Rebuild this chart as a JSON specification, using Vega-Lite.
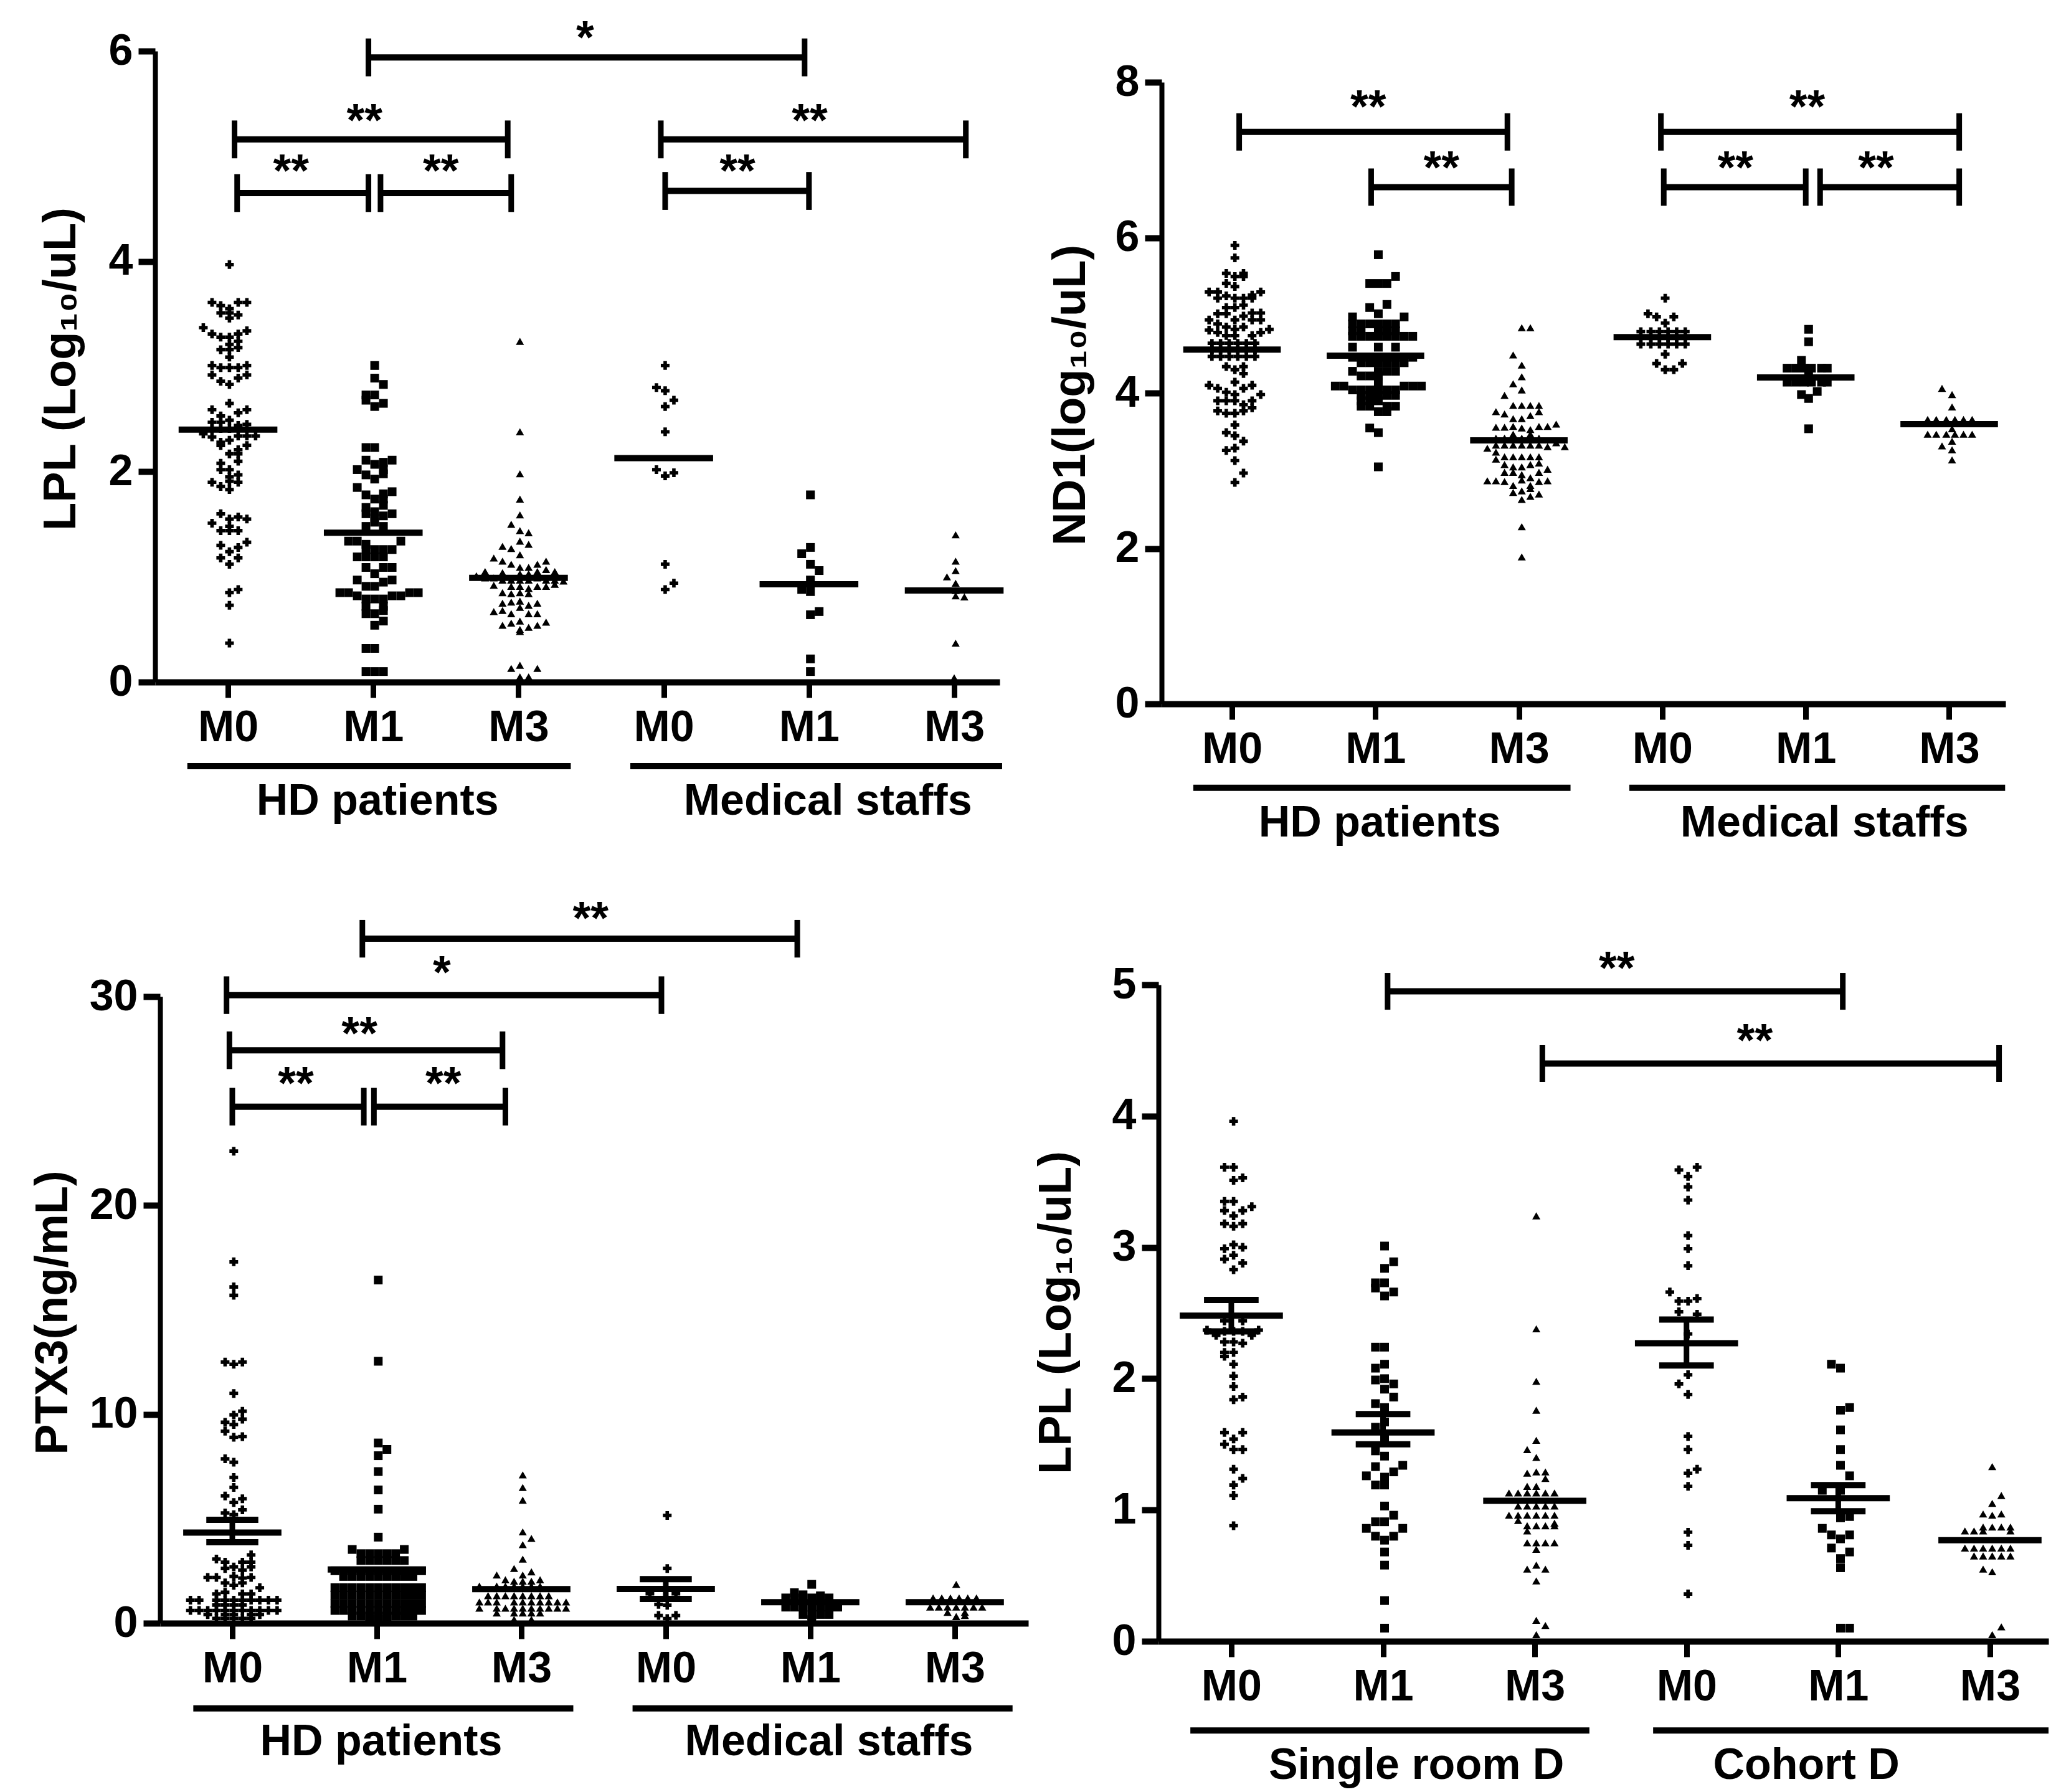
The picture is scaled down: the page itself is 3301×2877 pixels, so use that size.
{"$schema":"https://vega.github.io/schema/vega-lite/v6.json","background":"white","padding":{"left":48,"top":25,"right":0,"bottom":0},
"config":{"view":{"stroke":null},"axis":{"grid":false,"domainColor":"black","tickColor":"black","labelColor":"black","titleColor":"black","labelFont":"Liberation Sans","titleFont":"Liberation Sans","labelFontWeight":"bold","titleFontWeight":"bold","labelFontSize":70,"titleFontSize":74,"labelOverlap":false,"labelFlush":false,"labelBound":false},"axisX":{"domainWidth":10,"tickWidth":9,"tickSize":25,"labelPadding":14},"axisY":{"domainWidth":8,"tickWidth":10,"tickSize":27,"labelPadding":9}},
"datasets":{
"A0":[{"x":1.01,"y":3.97},{"x":0.89,"y":3.61},{"x":1.07,"y":3.61},{"x":1.13,"y":3.61},{"x":0.95,"y":3.58},{"x":1.01,"y":3.55},{"x":0.95,"y":3.51},{"x":1.01,"y":3.51},{"x":1.07,"y":3.49},{"x":1.01,"y":3.46},{"x":0.83,"y":3.37},{"x":0.89,"y":3.31},{"x":1.13,"y":3.34},{"x":1.07,"y":3.31},{"x":0.95,"y":3.28},{"x":1.01,"y":3.28},{"x":1.07,"y":3.24},{"x":1.01,"y":3.21},{"x":0.95,"y":3.16},{"x":1.01,"y":3.16},{"x":1.07,"y":3.18},{"x":1.01,"y":3.09},{"x":0.89,"y":3.01},{"x":0.95,"y":2.99},{"x":1.01,"y":2.99},{"x":1.07,"y":2.99},{"x":1.13,"y":3.01},{"x":0.89,"y":2.92},{"x":1.13,"y":2.92},{"x":1.07,"y":2.89},{"x":0.95,"y":2.86},{"x":1.01,"y":2.83},{"x":1.01,"y":2.65},{"x":0.89,"y":2.59},{"x":1.13,"y":2.59},{"x":1.07,"y":2.56},{"x":0.95,"y":2.53},{"x":0.89,"y":2.47},{"x":0.95,"y":2.47},{"x":1.01,"y":2.49},{"x":1.13,"y":2.45},{"x":1.07,"y":2.44},{"x":1.01,"y":2.41},{"x":0.89,"y":2.41},{"x":0.95,"y":2.41},{"x":0.83,"y":2.36},{"x":0.89,"y":2.33},{"x":0.95,"y":2.28},{"x":1.01,"y":2.3},{"x":1.07,"y":2.34},{"x":1.13,"y":2.34},{"x":1.19,"y":2.34},{"x":1.13,"y":2.25},{"x":0.95,"y":2.25},{"x":1.07,"y":2.21},{"x":1.01,"y":2.17},{"x":1.07,"y":2.17},{"x":1.07,"y":2.1},{"x":0.95,"y":2.08},{"x":0.95,"y":2.02},{"x":1.01,"y":2.02},{"x":1.01,"y":1.95},{"x":1.07,"y":1.97},{"x":1.07,"y":1.9},{"x":0.89,"y":1.9},{"x":0.95,"y":1.86},{"x":1.01,"y":1.83},{"x":1.01,"y":1.91},{"x":0.95,"y":1.6},{"x":1.07,"y":1.57},{"x":1.01,"y":1.55},{"x":1.13,"y":1.55},{"x":0.89,"y":1.51},{"x":1.01,"y":1.48},{"x":0.95,"y":1.44},{"x":1.01,"y":1.44},{"x":1.07,"y":1.44},{"x":1.13,"y":1.33},{"x":0.95,"y":1.3},{"x":1.07,"y":1.28},{"x":1.01,"y":1.24},{"x":0.95,"y":1.18},{"x":1.07,"y":1.18},{"x":1.01,"y":1.12},{"x":1.07,"y":0.88},{"x":1.01,"y":0.85},{"x":1.01,"y":0.73},{"x":1.01,"y":0.37},{"x":4.01,"y":3.01},{"x":3.95,"y":2.8},{"x":4.01,"y":2.77},{"x":4.07,"y":2.68},{"x":4.01,"y":2.62},{"x":4.01,"y":2.38},{"x":3.95,"y":2.02},{"x":4.07,"y":1.99},{"x":4.01,"y":1.96},{"x":4.01,"y":1.12},{"x":4.07,"y":0.94},{"x":4.01,"y":0.88}],
"A1":[{"x":2.01,"y":3.01},{"x":2.01,"y":2.89},{"x":2.07,"y":2.83},{"x":1.95,"y":2.73},{"x":2.01,"y":2.73},{"x":1.95,"y":2.68},{"x":2.07,"y":2.65},{"x":2.01,"y":2.62},{"x":1.95,"y":2.23},{"x":2.01,"y":2.23},{"x":1.95,"y":2.11},{"x":2.13,"y":2.11},{"x":2.07,"y":2.09},{"x":2.01,"y":2.07},{"x":1.89,"y":2.02},{"x":2.07,"y":2.02},{"x":1.95,"y":1.97},{"x":2.07,"y":1.98},{"x":2.01,"y":1.93},{"x":1.89,"y":1.85},{"x":2.13,"y":1.81},{"x":1.95,"y":1.78},{"x":2.07,"y":1.79},{"x":2.01,"y":1.74},{"x":2.07,"y":1.74},{"x":1.95,"y":1.66},{"x":2.07,"y":1.68},{"x":1.95,"y":1.6},{"x":2.01,"y":1.62},{"x":2.13,"y":1.6},{"x":2.07,"y":1.58},{"x":2.01,"y":1.56},{"x":1.95,"y":1.48},{"x":2.07,"y":1.48},{"x":2.01,"y":1.52},{"x":1.83,"y":1.34},{"x":1.89,"y":1.34},{"x":2.19,"y":1.34},{"x":1.95,"y":1.31},{"x":1.95,"y":1.26},{"x":2.01,"y":1.26},{"x":2.07,"y":1.26},{"x":2.13,"y":1.26},{"x":1.89,"y":1.19},{"x":1.95,"y":1.19},{"x":2.01,"y":1.19},{"x":2.07,"y":1.19},{"x":1.95,"y":1.09},{"x":2.07,"y":1.09},{"x":2.13,"y":1.09},{"x":2.01,"y":1.03},{"x":1.89,"y":0.97},{"x":2.13,"y":0.97},{"x":1.95,"y":0.91},{"x":2.01,"y":0.91},{"x":2.07,"y":0.95},{"x":1.77,"y":0.85},{"x":1.83,"y":0.85},{"x":1.89,"y":0.82},{"x":1.95,"y":0.79},{"x":2.01,"y":0.79},{"x":2.07,"y":0.79},{"x":2.13,"y":0.82},{"x":2.19,"y":0.82},{"x":2.25,"y":0.85},{"x":2.31,"y":0.85},{"x":1.95,"y":0.72},{"x":2.07,"y":0.72},{"x":1.95,"y":0.65},{"x":2.01,"y":0.65},{"x":2.07,"y":0.68},{"x":2.01,"y":0.54},{"x":2.07,"y":0.58},{"x":1.95,"y":0.32},{"x":2.01,"y":0.32},{"x":1.95,"y":0.1},{"x":2.01,"y":0.1},{"x":2.07,"y":0.1},{"x":5.01,"y":1.78},{"x":5.01,"y":1.28},{"x":4.95,"y":1.22},{"x":5.01,"y":1.12},{"x":5.07,"y":1.06},{"x":5.01,"y":0.97},{"x":4.95,"y":0.88},{"x":5.01,"y":0.86},{"x":5.07,"y":0.67},{"x":5.01,"y":0.64},{"x":5.01,"y":0.22},{"x":5.01,"y":0.1}],
"A2":[{"x":3.01,"y":3.24},{"x":3.01,"y":2.38},{"x":3.01,"y":1.98},{"x":3.01,"y":1.74},{"x":3.01,"y":1.59},{"x":2.95,"y":1.5},{"x":3.01,"y":1.44},{"x":3.07,"y":1.42},{"x":3.01,"y":1.34},{"x":3.07,"y":1.31},{"x":2.89,"y":1.29},{"x":2.95,"y":1.27},{"x":3.01,"y":1.21},{"x":2.83,"y":1.18},{"x":2.89,"y":1.15},{"x":2.95,"y":1.12},{"x":3.19,"y":1.15},{"x":3.13,"y":1.12},{"x":3.01,"y":1.09},{"x":3.07,"y":1.09},{"x":2.77,"y":1.05},{"x":2.89,"y":1.04},{"x":3.13,"y":1.05},{"x":3.19,"y":1.07},{"x":3.25,"y":1.05},{"x":3.01,"y":1.03},{"x":3.07,"y":1.03},{"x":2.71,"y":1.01},{"x":2.77,"y":0.99},{"x":2.83,"y":0.99},{"x":2.89,"y":0.97},{"x":2.95,"y":0.97},{"x":3.01,"y":0.97},{"x":3.07,"y":0.97},{"x":3.13,"y":0.99},{"x":3.19,"y":0.97},{"x":3.25,"y":0.97},{"x":3.31,"y":0.96},{"x":2.83,"y":0.92},{"x":2.95,"y":0.91},{"x":3.01,"y":0.91},{"x":3.07,"y":0.89},{"x":3.13,"y":0.91},{"x":3.19,"y":0.91},{"x":3.25,"y":0.93},{"x":2.89,"y":0.85},{"x":2.95,"y":0.84},{"x":3.01,"y":0.85},{"x":3.07,"y":0.84},{"x":2.89,"y":0.75},{"x":2.95,"y":0.76},{"x":3.01,"y":0.77},{"x":3.07,"y":0.73},{"x":3.13,"y":0.75},{"x":2.83,"y":0.67},{"x":2.89,"y":0.68},{"x":2.95,"y":0.65},{"x":3.01,"y":0.71},{"x":3.07,"y":0.65},{"x":3.13,"y":0.65},{"x":2.89,"y":0.54},{"x":2.95,"y":0.56},{"x":3.01,"y":0.58},{"x":3.01,"y":0.5},{"x":3.07,"y":0.52},{"x":3.13,"y":0.54},{"x":3.19,"y":0.57},{"x":3.01,"y":0.48},{"x":2.95,"y":0.13},{"x":3.01,"y":0.16},{"x":3.13,"y":0.13},{"x":3.01,"y":0.05},{"x":3.07,"y":0.05},{"x":6.01,"y":1.4},{"x":6.01,"y":1.15},{"x":6.01,"y":1.06},{"x":5.95,"y":1.0},{"x":6.01,"y":0.94},{"x":6.01,"y":0.87},{"x":6.01,"y":0.82},{"x":6.07,"y":0.81},{"x":6.01,"y":0.37},{"x":6.0,"y":0.04}],
"Ah":[{"x":0.66,"x2":1.34,"y":2.4},{"x":1.66,"x2":2.34,"y":1.42},{"x":2.66,"x2":3.34,"y":0.99},{"x":3.66,"x2":4.34,"y":2.13},{"x":4.66,"x2":5.34,"y":0.93},{"x":5.66,"x2":6.34,"y":0.87},{"x":0.72,"x2":3.36,"y":-0.8},{"x":3.77,"x2":6.33,"y":-0.8},{"x":1.967,"x2":4.97,"y":5.94},{"x":1.045,"x2":2.926,"y":5.16},{"x":1.063,"x2":1.967,"y":4.65},{"x":2.05,"x2":2.95,"y":4.65},{"x":3.98,"x2":6.08,"y":5.16},{"x":4.01,"x2":5.0,"y":4.67}],
"Av":[{"x":1.967,"y":5.76,"y2":6.12},{"x":4.97,"y":5.76,"y2":6.12},{"x":1.045,"y":4.98,"y2":5.34},{"x":2.926,"y":4.98,"y2":5.34},{"x":1.063,"y":4.47,"y2":4.83},{"x":1.967,"y":4.47,"y2":4.83},{"x":2.05,"y":4.47,"y2":4.83},{"x":2.95,"y":4.47,"y2":4.83},{"x":3.98,"y":4.98,"y2":5.34},{"x":6.08,"y":4.98,"y2":5.34},{"x":4.01,"y":4.49,"y2":4.85},{"x":5.0,"y":4.49,"y2":4.85}],
"As":[{"x":3.459,"y":6.16,"t":"*"},{"x":1.94,"y":5.37,"t":"**"},{"x":1.434,"y":4.89,"t":"**"},{"x":2.465,"y":4.89,"t":"**"},{"x":5.005,"y":5.37,"t":"**"},{"x":4.508,"y":4.89,"t":"**"}],
"At":[{"x":2.03,"y":-1.135,"t":"HD patients"},{"x":5.13,"y":-1.135,"t":"Medical staffs"}],
"B0":[{"x":1.02,"y":5.9},{"x":1.02,"y":5.74},{"x":1.08,"y":5.54},{"x":0.96,"y":5.54},{"x":1.02,"y":5.5},{"x":1.08,"y":5.5},{"x":0.96,"y":5.41},{"x":1.02,"y":5.37},{"x":0.84,"y":5.3},{"x":0.9,"y":5.3},{"x":1.2,"y":5.3},{"x":1.14,"y":5.26},{"x":0.9,"y":5.22},{"x":0.96,"y":5.25},{"x":1.02,"y":5.22},{"x":1.08,"y":5.22},{"x":1.14,"y":5.22},{"x":1.08,"y":5.13},{"x":0.96,"y":5.1},{"x":1.02,"y":5.1},{"x":0.9,"y":5.02},{"x":0.96,"y":5.02},{"x":1.14,"y":5.03},{"x":1.2,"y":5.03},{"x":0.84,"y":4.94},{"x":1.02,"y":4.94},{"x":1.08,"y":4.99},{"x":1.14,"y":4.94},{"x":1.2,"y":4.94},{"x":0.9,"y":4.89},{"x":0.96,"y":4.85},{"x":1.08,"y":4.85},{"x":0.84,"y":4.81},{"x":1.02,"y":4.82},{"x":0.9,"y":4.78},{"x":0.96,"y":4.74},{"x":1.02,"y":4.74},{"x":1.14,"y":4.74},{"x":1.2,"y":4.78},{"x":1.26,"y":4.82},{"x":0.86,"y":4.64},{"x":0.92,"y":4.64},{"x":0.98,"y":4.64},{"x":1.04,"y":4.64},{"x":1.1,"y":4.64},{"x":1.16,"y":4.64},{"x":0.86,"y":4.56},{"x":0.92,"y":4.56},{"x":0.98,"y":4.56},{"x":1.04,"y":4.56},{"x":1.1,"y":4.56},{"x":1.16,"y":4.56},{"x":0.86,"y":4.47},{"x":0.92,"y":4.47},{"x":0.98,"y":4.47},{"x":1.04,"y":4.47},{"x":1.1,"y":4.47},{"x":1.16,"y":4.47},{"x":0.96,"y":4.34},{"x":1.02,"y":4.3},{"x":1.08,"y":4.34},{"x":1.08,"y":4.25},{"x":1.02,"y":4.14},{"x":0.84,"y":4.1},{"x":1.14,"y":4.1},{"x":0.9,"y":4.06},{"x":1.08,"y":4.06},{"x":1.2,"y":3.98},{"x":0.96,"y":4.01},{"x":1.02,"y":3.98},{"x":0.9,"y":3.9},{"x":0.96,"y":3.9},{"x":1.02,"y":3.9},{"x":1.14,"y":3.9},{"x":1.08,"y":3.85},{"x":0.9,"y":3.77},{"x":1.14,"y":3.81},{"x":0.96,"y":3.74},{"x":1.02,"y":3.74},{"x":1.08,"y":3.77},{"x":1.02,"y":3.59},{"x":0.96,"y":3.49},{"x":1.02,"y":3.45},{"x":1.08,"y":3.38},{"x":1.02,"y":3.29},{"x":0.96,"y":3.26},{"x":1.02,"y":3.13},{"x":1.08,"y":2.97},{"x":1.02,"y":2.85},{"x":4.02,"y":5.22},{"x":3.9,"y":5.02},{"x":3.96,"y":4.98},{"x":4.08,"y":4.98},{"x":4.02,"y":4.9},{"x":3.85,"y":4.79},{"x":3.92,"y":4.79},{"x":3.98,"y":4.79},{"x":4.04,"y":4.79},{"x":4.1,"y":4.79},{"x":4.16,"y":4.79},{"x":3.85,"y":4.71},{"x":3.92,"y":4.71},{"x":3.98,"y":4.71},{"x":4.04,"y":4.71},{"x":4.1,"y":4.71},{"x":4.16,"y":4.71},{"x":3.85,"y":4.63},{"x":3.92,"y":4.63},{"x":3.98,"y":4.63},{"x":4.04,"y":4.63},{"x":4.1,"y":4.63},{"x":4.16,"y":4.63},{"x":4.02,"y":4.5},{"x":3.96,"y":4.38},{"x":4.14,"y":4.38},{"x":4.02,"y":4.3},{"x":4.08,"y":4.3}],
"B1":[{"x":2.02,"y":5.78},{"x":2.14,"y":5.5},{"x":1.96,"y":5.41},{"x":2.02,"y":5.41},{"x":2.08,"y":5.41},{"x":1.96,"y":5.1},{"x":2.08,"y":5.14},{"x":2.02,"y":5.02},{"x":1.84,"y":4.98},{"x":2.2,"y":4.98},{"x":1.84,"y":4.89},{"x":1.9,"y":4.89},{"x":1.96,"y":4.89},{"x":2.02,"y":4.89},{"x":2.08,"y":4.89},{"x":2.14,"y":4.89},{"x":1.84,"y":4.8},{"x":1.9,"y":4.8},{"x":2.02,"y":4.8},{"x":2.08,"y":4.8},{"x":2.14,"y":4.8},{"x":1.84,"y":4.73},{"x":1.9,"y":4.73},{"x":1.96,"y":4.73},{"x":2.02,"y":4.73},{"x":2.08,"y":4.73},{"x":2.14,"y":4.73},{"x":2.2,"y":4.73},{"x":2.26,"y":4.73},{"x":1.84,"y":4.59},{"x":2.02,"y":4.59},{"x":2.14,"y":4.59},{"x":1.84,"y":4.46},{"x":1.9,"y":4.46},{"x":1.96,"y":4.46},{"x":2.02,"y":4.46},{"x":2.08,"y":4.46},{"x":2.14,"y":4.46},{"x":2.2,"y":4.46},{"x":2.26,"y":4.46},{"x":1.9,"y":4.39},{"x":1.96,"y":4.39},{"x":2.02,"y":4.39},{"x":2.08,"y":4.39},{"x":2.14,"y":4.39},{"x":2.2,"y":4.39},{"x":1.84,"y":4.28},{"x":2.02,"y":4.28},{"x":2.08,"y":4.28},{"x":2.14,"y":4.28},{"x":1.9,"y":4.22},{"x":1.96,"y":4.22},{"x":2.02,"y":4.22},{"x":2.02,"y":4.14},{"x":1.72,"y":4.09},{"x":1.78,"y":4.09},{"x":2.2,"y":4.09},{"x":2.26,"y":4.09},{"x":2.32,"y":4.09},{"x":1.84,"y":4.04},{"x":1.9,"y":4.04},{"x":1.96,"y":4.04},{"x":2.02,"y":4.04},{"x":2.08,"y":4.04},{"x":2.14,"y":4.04},{"x":1.9,"y":3.97},{"x":1.96,"y":3.97},{"x":2.02,"y":3.97},{"x":2.08,"y":3.97},{"x":2.14,"y":3.97},{"x":1.9,"y":3.9},{"x":1.96,"y":3.9},{"x":2.02,"y":3.9},{"x":1.9,"y":3.83},{"x":1.96,"y":3.83},{"x":2.08,"y":3.83},{"x":2.14,"y":3.83},{"x":2.02,"y":3.76},{"x":2.08,"y":3.76},{"x":1.96,"y":3.55},{"x":2.02,"y":3.49},{"x":2.02,"y":3.05},{"x":5.02,"y":4.82},{"x":5.02,"y":4.66},{"x":4.97,"y":4.42},{"x":4.87,"y":4.32},{"x":4.93,"y":4.32},{"x":4.99,"y":4.32},{"x":5.04,"y":4.32},{"x":5.11,"y":4.32},{"x":5.15,"y":4.32},{"x":5.02,"y":4.26},{"x":4.87,"y":4.14},{"x":4.93,"y":4.14},{"x":4.99,"y":4.14},{"x":5.04,"y":4.14},{"x":5.11,"y":4.14},{"x":5.15,"y":4.14},{"x":4.97,"y":3.98},{"x":5.08,"y":4.02},{"x":5.02,"y":3.93},{"x":5.02,"y":3.54}],
"B2":[{"x":3.02,"y":4.84},{"x":3.08,"y":4.84},{"x":2.96,"y":4.49},{"x":3.02,"y":4.36},{"x":3.02,"y":4.21},{"x":2.96,"y":4.12},{"x":3.02,"y":4.04},{"x":2.9,"y":3.97},{"x":2.96,"y":3.84},{"x":3.02,"y":3.84},{"x":3.08,"y":3.84},{"x":3.14,"y":3.84},{"x":2.84,"y":3.76},{"x":2.9,"y":3.73},{"x":2.96,"y":3.67},{"x":3.02,"y":3.67},{"x":3.08,"y":3.71},{"x":3.14,"y":3.76},{"x":2.84,"y":3.56},{"x":2.9,"y":3.56},{"x":2.96,"y":3.57},{"x":3.02,"y":3.55},{"x":3.08,"y":3.53},{"x":3.14,"y":3.57},{"x":3.2,"y":3.57},{"x":3.26,"y":3.6},{"x":2.96,"y":3.47},{"x":3.08,"y":3.47},{"x":2.84,"y":3.42},{"x":2.9,"y":3.42},{"x":2.96,"y":3.42},{"x":3.02,"y":3.42},{"x":3.08,"y":3.42},{"x":3.14,"y":3.42},{"x":2.84,"y":3.33},{"x":2.9,"y":3.33},{"x":2.96,"y":3.33},{"x":3.02,"y":3.33},{"x":3.08,"y":3.33},{"x":3.14,"y":3.33},{"x":2.78,"y":3.29},{"x":3.32,"y":3.31},{"x":3.26,"y":3.36},{"x":3.2,"y":3.31},{"x":2.84,"y":3.24},{"x":2.9,"y":3.18},{"x":2.96,"y":3.18},{"x":3.02,"y":3.18},{"x":3.08,"y":3.18},{"x":3.14,"y":3.18},{"x":2.84,"y":3.15},{"x":2.9,"y":3.08},{"x":2.96,"y":3.05},{"x":3.02,"y":3.05},{"x":3.14,"y":3.1},{"x":3.08,"y":3.08},{"x":3.2,"y":3.02},{"x":2.9,"y":2.98},{"x":2.96,"y":2.98},{"x":3.02,"y":2.95},{"x":3.08,"y":2.91},{"x":3.14,"y":2.98},{"x":2.78,"y":2.87},{"x":2.84,"y":2.87},{"x":2.9,"y":2.86},{"x":2.96,"y":2.81},{"x":3.02,"y":2.88},{"x":3.08,"y":2.81},{"x":3.14,"y":2.86},{"x":3.2,"y":2.87},{"x":2.96,"y":2.72},{"x":3.02,"y":2.74},{"x":3.08,"y":2.77},{"x":3.14,"y":2.7},{"x":3.02,"y":2.63},{"x":3.08,"y":2.67},{"x":3.02,"y":2.28},{"x":3.02,"y":1.89},{"x":5.95,"y":4.06},{"x":6.02,"y":3.98},{"x":6.02,"y":3.82},{"x":5.85,"y":3.66},{"x":5.91,"y":3.66},{"x":5.98,"y":3.66},{"x":6.04,"y":3.66},{"x":6.1,"y":3.66},{"x":6.16,"y":3.66},{"x":6.02,"y":3.54},{"x":5.85,"y":3.47},{"x":5.91,"y":3.47},{"x":5.98,"y":3.47},{"x":6.04,"y":3.47},{"x":6.1,"y":3.47},{"x":6.16,"y":3.47},{"x":6.02,"y":3.38},{"x":5.95,"y":3.32},{"x":6.02,"y":3.27},{"x":6.02,"y":3.14}],
"Bh":[{"x":0.66,"x2":1.34,"y":4.56},{"x":1.66,"x2":2.34,"y":4.48},{"x":2.66,"x2":3.34,"y":3.39},{"x":3.66,"x2":4.34,"y":4.72},{"x":4.66,"x2":5.34,"y":4.2},{"x":5.66,"x2":6.34,"y":3.6},{"x":0.73,"x2":3.36,"y":-1.08},{"x":3.77,"x2":6.39,"y":-1.08},{"x":1.05,"x2":2.92,"y":7.36},{"x":1.97,"x2":2.95,"y":6.65},{"x":3.99,"x2":6.07,"y":7.36},{"x":4.01,"x2":5.0,"y":6.65},{"x":5.1,"x2":6.07,"y":6.65}],
"Bv":[{"x":1.05,"y":7.12,"y2":7.6},{"x":2.92,"y":7.12,"y2":7.6},{"x":1.97,"y":6.41,"y2":6.89},{"x":2.95,"y":6.41,"y2":6.89},{"x":3.99,"y":7.12,"y2":7.6},{"x":6.07,"y":7.12,"y2":7.6},{"x":4.01,"y":6.41,"y2":6.89},{"x":5.0,"y":6.41,"y2":6.89},{"x":5.1,"y":6.41,"y2":6.89},{"x":6.07,"y":6.41,"y2":6.89}],
"Bs":[{"x":1.95,"y":7.73,"t":"**"},{"x":2.46,"y":6.94,"t":"**"},{"x":5.01,"y":7.73,"t":"**"},{"x":4.51,"y":6.94,"t":"**"},{"x":5.49,"y":6.94,"t":"**"}],
"Bt":[{"x":2.03,"y":-1.54,"t":"HD patients"},{"x":5.13,"y":-1.54,"t":"Medical staffs"}],
"C0":[{"x":1.01,"y":22.6},{"x":1.01,"y":17.3},{"x":1.01,"y":16.1},{"x":1.01,"y":15.7},{"x":0.95,"y":12.5},{"x":1.07,"y":12.5},{"x":1.01,"y":12.4},{"x":1.01,"y":11.0},{"x":1.07,"y":10.15},{"x":1.01,"y":9.97},{"x":1.07,"y":9.77},{"x":0.95,"y":9.62},{"x":1.01,"y":9.51},{"x":0.95,"y":9.19},{"x":1.01,"y":8.9},{"x":1.07,"y":8.93},{"x":0.95,"y":7.87},{"x":1.01,"y":7.71},{"x":1.01,"y":6.98},{"x":1.01,"y":6.5},{"x":0.95,"y":6.09},{"x":1.01,"y":5.78},{"x":1.07,"y":5.96},{"x":1.07,"y":5.43},{"x":0.95,"y":5.28},{"x":1.01,"y":5.2},{"x":1.13,"y":3.27},{"x":0.89,"y":3.07},{"x":0.95,"y":2.92},{"x":1.13,"y":2.92},{"x":1.07,"y":2.92},{"x":1.01,"y":2.69},{"x":0.95,"y":2.62},{"x":1.07,"y":2.54},{"x":1.13,"y":2.69},{"x":0.83,"y":2.19},{"x":0.89,"y":2.19},{"x":1.01,"y":2.24},{"x":1.07,"y":2.16},{"x":1.13,"y":2.19},{"x":0.95,"y":1.93},{"x":1.01,"y":1.81},{"x":1.07,"y":1.93},{"x":1.19,"y":1.7},{"x":0.89,"y":1.4},{"x":0.95,"y":1.48},{"x":1.07,"y":1.4},{"x":1.13,"y":1.4},{"x":0.71,"y":1.1},{"x":0.77,"y":1.1},{"x":0.89,"y":1.1},{"x":0.95,"y":1.1},{"x":1.01,"y":1.1},{"x":1.07,"y":1.1},{"x":1.13,"y":1.1},{"x":1.19,"y":1.1},{"x":1.25,"y":1.1},{"x":1.31,"y":1.1},{"x":0.89,"y":0.87},{"x":0.95,"y":0.87},{"x":1.01,"y":0.87},{"x":1.07,"y":0.87},{"x":0.71,"y":0.61},{"x":0.77,"y":0.61},{"x":0.83,"y":0.61},{"x":0.89,"y":0.61},{"x":0.95,"y":0.61},{"x":1.01,"y":0.61},{"x":1.07,"y":0.61},{"x":1.13,"y":0.61},{"x":1.19,"y":0.61},{"x":1.25,"y":0.61},{"x":1.31,"y":0.61},{"x":0.83,"y":0.41},{"x":0.95,"y":0.41},{"x":1.01,"y":0.41},{"x":1.13,"y":0.41},{"x":1.19,"y":0.41},{"x":0.89,"y":0.23},{"x":0.95,"y":0.23},{"x":1.01,"y":0.23},{"x":1.07,"y":0.23},{"x":1.13,"y":0.23},{"x":4.01,"y":5.16},{"x":4.01,"y":2.62},{"x":3.89,"y":1.41},{"x":4.07,"y":1.41},{"x":3.95,"y":0.9},{"x":4.01,"y":0.86},{"x":3.95,"y":0.37},{"x":4.07,"y":0.37},{"x":4.01,"y":0.22}],
"C1":[{"x":2.01,"y":16.43},{"x":2.01,"y":12.54},{"x":2.01,"y":8.63},{"x":2.07,"y":8.32},{"x":2.01,"y":8.02},{"x":2.01,"y":7.26},{"x":2.01,"y":6.38},{"x":2.01,"y":5.46},{"x":2.01,"y":4.12},{"x":1.83,"y":3.53},{"x":2.19,"y":3.53},{"x":1.89,"y":3.33},{"x":1.95,"y":3.33},{"x":2.01,"y":3.33},{"x":2.07,"y":3.33},{"x":2.13,"y":3.33},{"x":1.89,"y":3.0},{"x":1.95,"y":3.0},{"x":2.01,"y":3.0},{"x":2.07,"y":3.0},{"x":2.13,"y":3.0},{"x":2.19,"y":3.0},{"x":1.71,"y":2.51},{"x":1.77,"y":2.51},{"x":1.83,"y":2.51},{"x":1.89,"y":2.51},{"x":1.95,"y":2.51},{"x":2.01,"y":2.51},{"x":2.07,"y":2.51},{"x":2.13,"y":2.51},{"x":2.19,"y":2.51},{"x":2.25,"y":2.51},{"x":2.31,"y":2.51},{"x":1.77,"y":2.24},{"x":1.83,"y":2.24},{"x":1.89,"y":2.24},{"x":1.95,"y":2.24},{"x":2.01,"y":2.24},{"x":2.07,"y":2.24},{"x":2.13,"y":2.24},{"x":2.19,"y":2.24},{"x":2.25,"y":2.24},{"x":1.71,"y":1.7},{"x":1.77,"y":1.7},{"x":1.83,"y":1.7},{"x":1.89,"y":1.7},{"x":1.95,"y":1.7},{"x":2.01,"y":1.7},{"x":2.07,"y":1.7},{"x":2.13,"y":1.7},{"x":2.19,"y":1.7},{"x":2.25,"y":1.7},{"x":2.31,"y":1.7},{"x":1.71,"y":1.35},{"x":1.77,"y":1.35},{"x":1.83,"y":1.35},{"x":1.89,"y":1.35},{"x":1.95,"y":1.35},{"x":2.01,"y":1.35},{"x":2.07,"y":1.35},{"x":2.13,"y":1.35},{"x":2.19,"y":1.35},{"x":2.25,"y":1.35},{"x":2.31,"y":1.35},{"x":1.71,"y":0.95},{"x":1.77,"y":0.95},{"x":1.83,"y":0.95},{"x":1.89,"y":0.95},{"x":1.95,"y":0.95},{"x":2.01,"y":0.95},{"x":2.07,"y":0.95},{"x":2.13,"y":0.95},{"x":2.19,"y":0.95},{"x":2.25,"y":0.95},{"x":2.31,"y":0.95},{"x":1.71,"y":0.61},{"x":1.77,"y":0.61},{"x":1.83,"y":0.61},{"x":1.89,"y":0.61},{"x":1.95,"y":0.61},{"x":2.01,"y":0.61},{"x":2.07,"y":0.61},{"x":2.13,"y":0.61},{"x":2.19,"y":0.61},{"x":2.25,"y":0.61},{"x":2.31,"y":0.61},{"x":1.83,"y":0.34},{"x":1.89,"y":0.34},{"x":1.95,"y":0.34},{"x":2.01,"y":0.34},{"x":2.07,"y":0.34},{"x":2.13,"y":0.34},{"x":2.19,"y":0.34},{"x":2.25,"y":0.34},{"x":1.95,"y":0.18},{"x":2.01,"y":0.18},{"x":2.07,"y":0.18},{"x":5.01,"y":1.86},{"x":4.89,"y":1.46},{"x":4.95,"y":1.36},{"x":5.07,"y":1.31},{"x":4.83,"y":1.21},{"x":4.89,"y":1.21},{"x":4.95,"y":1.21},{"x":5.01,"y":1.21},{"x":5.07,"y":1.21},{"x":5.13,"y":1.21},{"x":4.83,"y":0.77},{"x":4.89,"y":0.77},{"x":4.95,"y":0.77},{"x":5.01,"y":0.77},{"x":5.07,"y":0.77},{"x":5.13,"y":0.77},{"x":5.19,"y":0.77},{"x":4.95,"y":0.42},{"x":5.01,"y":0.37},{"x":5.07,"y":0.42},{"x":5.13,"y":0.42},{"x":5.01,"y":0.17}],
"C2":[{"x":3.01,"y":7.1},{"x":3.01,"y":6.5},{"x":3.01,"y":5.89},{"x":3.01,"y":4.37},{"x":3.07,"y":4.06},{"x":3.01,"y":3.76},{"x":3.01,"y":3.07},{"x":2.95,"y":2.62},{"x":3.07,"y":2.46},{"x":2.83,"y":2.31},{"x":3.01,"y":2.31},{"x":2.89,"y":2.08},{"x":3.13,"y":2.08},{"x":3.01,"y":2.01},{"x":3.07,"y":2.01},{"x":2.95,"y":2.01},{"x":2.71,"y":1.78},{"x":2.83,"y":1.78},{"x":2.89,"y":1.78},{"x":2.95,"y":1.78},{"x":3.01,"y":1.78},{"x":3.07,"y":1.78},{"x":3.13,"y":1.78},{"x":2.77,"y":1.32},{"x":2.83,"y":1.32},{"x":2.89,"y":1.32},{"x":2.95,"y":1.32},{"x":3.01,"y":1.32},{"x":3.07,"y":1.32},{"x":3.13,"y":1.32},{"x":3.19,"y":1.32},{"x":2.71,"y":1.02},{"x":2.77,"y":1.02},{"x":2.83,"y":1.02},{"x":2.95,"y":1.02},{"x":3.01,"y":1.02},{"x":3.07,"y":1.02},{"x":3.13,"y":1.02},{"x":3.19,"y":1.02},{"x":3.25,"y":1.02},{"x":3.31,"y":1.02},{"x":2.71,"y":0.72},{"x":2.83,"y":0.72},{"x":2.89,"y":0.72},{"x":2.95,"y":0.72},{"x":3.01,"y":0.72},{"x":3.07,"y":0.72},{"x":3.13,"y":0.72},{"x":3.19,"y":0.72},{"x":3.25,"y":0.72},{"x":3.31,"y":0.72},{"x":2.83,"y":0.49},{"x":2.95,"y":0.49},{"x":3.01,"y":0.49},{"x":3.07,"y":0.49},{"x":3.13,"y":0.49},{"x":2.95,"y":0.18},{"x":3.07,"y":0.18},{"x":6.01,"y":1.86},{"x":5.85,"y":1.21},{"x":5.91,"y":1.21},{"x":5.97,"y":1.21},{"x":6.03,"y":1.21},{"x":6.09,"y":1.21},{"x":6.15,"y":1.21},{"x":5.83,"y":0.77},{"x":5.89,"y":0.77},{"x":5.95,"y":0.77},{"x":6.01,"y":0.77},{"x":6.07,"y":0.77},{"x":6.13,"y":0.77},{"x":6.19,"y":0.77},{"x":5.95,"y":0.52},{"x":6.07,"y":0.52},{"x":6.01,"y":0.32},{"x":6.07,"y":0.37}],
"Ch":[{"x":0.66,"x2":1.34,"y":4.34},{"x":1.66,"x2":2.34,"y":2.57},{"x":2.66,"x2":3.34,"y":1.63},{"x":3.66,"x2":4.34,"y":1.64},{"x":4.66,"x2":5.34,"y":1.01},{"x":5.66,"x2":6.34,"y":1.01},{"x":0.82,"x2":1.18,"y":4.95},{"x":0.82,"x2":1.18,"y":3.88},{"x":3.82,"x2":4.18,"y":2.11},{"x":3.82,"x2":4.18,"y":1.16},{"x":0.73,"x2":3.36,"y":-4.08},{"x":3.77,"x2":6.4,"y":-4.08},{"x":1.9,"x2":4.91,"y":32.77},{"x":0.96,"x2":3.97,"y":30.07},{"x":0.98,"x2":2.87,"y":27.43},{"x":1.0,"x2":1.91,"y":24.73},{"x":1.98,"x2":2.89,"y":24.73}],
"Cv":[{"x":1.9,"y":31.87,"y2":33.67},{"x":4.91,"y":31.87,"y2":33.67},{"x":0.96,"y":29.17,"y2":30.97},{"x":3.97,"y":29.17,"y2":30.97},{"x":0.98,"y":26.53,"y2":28.33},{"x":2.87,"y":26.53,"y2":28.33},{"x":1.0,"y":23.83,"y2":25.63},{"x":1.91,"y":23.83,"y2":25.63},{"x":1.98,"y":23.83,"y2":25.63},{"x":2.89,"y":23.83,"y2":25.63},{"x":1.0,"y":3.88,"y2":4.95},{"x":4.0,"y":1.16,"y2":2.11}],
"Cs":[{"x":3.48,"y":33.9,"t":"**"},{"x":2.45,"y":31.3,"t":"*"},{"x":1.88,"y":28.4,"t":"**"},{"x":1.44,"y":26.0,"t":"**"},{"x":2.46,"y":26.0,"t":"**"}],
"Ct":[{"x":2.03,"y":-5.71,"t":"HD patients"},{"x":5.13,"y":-5.71,"t":"Medical staffs"}],
"D0":[{"x":1.015,"y":3.96},{"x":0.955,"y":3.61},{"x":1.015,"y":3.61},{"x":1.075,"y":3.53},{"x":1.015,"y":3.51},{"x":0.955,"y":3.35},{"x":1.015,"y":3.35},{"x":0.955,"y":3.28},{"x":1.075,"y":3.28},{"x":1.135,"y":3.31},{"x":1.015,"y":3.24},{"x":0.955,"y":3.18},{"x":1.075,"y":3.18},{"x":1.015,"y":3.16},{"x":0.955,"y":2.99},{"x":1.015,"y":3.02},{"x":1.075,"y":3.0},{"x":0.955,"y":2.91},{"x":1.015,"y":2.94},{"x":1.075,"y":2.88},{"x":1.015,"y":2.83},{"x":0.955,"y":2.44},{"x":1.075,"y":2.44},{"x":0.84,"y":2.37},{"x":0.9,"y":2.33},{"x":0.955,"y":2.36},{"x":1.015,"y":2.36},{"x":1.075,"y":2.36},{"x":1.135,"y":2.33},{"x":1.18,"y":2.37},{"x":0.955,"y":2.28},{"x":1.015,"y":2.28},{"x":1.075,"y":2.27},{"x":0.955,"y":2.2},{"x":1.015,"y":2.2},{"x":0.955,"y":2.17},{"x":1.015,"y":2.11},{"x":1.015,"y":2.02},{"x":1.015,"y":1.94},{"x":1.015,"y":1.84},{"x":1.075,"y":1.86},{"x":0.955,"y":1.59},{"x":1.075,"y":1.59},{"x":1.015,"y":1.54},{"x":0.955,"y":1.5},{"x":1.015,"y":1.46},{"x":1.075,"y":1.46},{"x":1.015,"y":1.31},{"x":1.075,"y":1.24},{"x":1.015,"y":1.19},{"x":1.015,"y":1.11},{"x":1.015,"y":0.88},{"x":4.07,"y":3.61},{"x":3.95,"y":3.59},{"x":4.01,"y":3.54},{"x":4.01,"y":3.46},{"x":4.01,"y":3.36},{"x":4.01,"y":3.09},{"x":4.01,"y":2.99},{"x":4.01,"y":2.86},{"x":3.89,"y":2.66},{"x":4.07,"y":2.61},{"x":3.95,"y":2.59},{"x":4.01,"y":2.59},{"x":3.95,"y":2.51},{"x":4.07,"y":2.49},{"x":4.01,"y":2.34},{"x":4.01,"y":2.03},{"x":3.95,"y":1.96},{"x":4.01,"y":1.88},{"x":4.01,"y":1.56},{"x":4.01,"y":1.46},{"x":4.01,"y":1.28},{"x":4.07,"y":1.31},{"x":4.01,"y":1.18},{"x":4.01,"y":0.83},{"x":4.01,"y":0.73},{"x":4.01,"y":0.36}],
"D1":[{"x":2.01,"y":3.01},{"x":2.07,"y":2.89},{"x":2.01,"y":2.84},{"x":1.95,"y":2.73},{"x":2.01,"y":2.73},{"x":1.95,"y":2.69},{"x":2.07,"y":2.66},{"x":2.01,"y":2.63},{"x":1.95,"y":2.24},{"x":2.01,"y":2.24},{"x":2.01,"y":2.11},{"x":1.95,"y":2.08},{"x":2.01,"y":2.0},{"x":1.95,"y":1.99},{"x":2.07,"y":1.96},{"x":2.01,"y":1.92},{"x":2.07,"y":1.86},{"x":1.95,"y":1.81},{"x":2.01,"y":1.78},{"x":2.01,"y":1.67},{"x":1.95,"y":1.63},{"x":2.01,"y":1.55},{"x":2.01,"y":1.41},{"x":1.95,"y":1.45},{"x":1.95,"y":1.33},{"x":2.13,"y":1.34},{"x":1.89,"y":1.26},{"x":2.07,"y":1.29},{"x":2.01,"y":1.25},{"x":1.95,"y":1.19},{"x":2.01,"y":1.19},{"x":2.01,"y":1.03},{"x":2.07,"y":0.96},{"x":2.01,"y":0.91},{"x":1.95,"y":0.91},{"x":1.89,"y":0.86},{"x":2.13,"y":0.86},{"x":1.95,"y":0.8},{"x":2.07,"y":0.8},{"x":2.01,"y":0.77},{"x":2.01,"y":0.68},{"x":2.01,"y":0.58},{"x":2.01,"y":0.31},{"x":2.01,"y":0.1},{"x":4.955,"y":2.11},{"x":5.015,"y":2.08},{"x":5.075,"y":1.78},{"x":5.015,"y":1.76},{"x":5.015,"y":1.61},{"x":5.015,"y":1.46},{"x":5.015,"y":1.34},{"x":5.075,"y":1.26},{"x":4.895,"y":1.15},{"x":5.015,"y":1.15},{"x":5.015,"y":0.94},{"x":5.075,"y":0.95},{"x":4.895,"y":0.86},{"x":4.955,"y":0.81},{"x":5.075,"y":0.81},{"x":5.015,"y":0.78},{"x":4.955,"y":0.71},{"x":5.075,"y":0.68},{"x":5.015,"y":0.63},{"x":5.015,"y":0.56},{"x":5.015,"y":0.1},{"x":5.075,"y":0.1}],
"D2":[{"x":3.01,"y":3.24},{"x":3.01,"y":2.38},{"x":3.01,"y":1.98},{"x":3.01,"y":1.76},{"x":3.01,"y":1.53},{"x":2.95,"y":1.46},{"x":3.01,"y":1.4},{"x":2.95,"y":1.28},{"x":3.01,"y":1.29},{"x":3.07,"y":1.29},{"x":3.07,"y":1.24},{"x":2.95,"y":1.18},{"x":3.01,"y":1.18},{"x":2.83,"y":1.13},{"x":2.89,"y":1.13},{"x":2.95,"y":1.13},{"x":3.01,"y":1.13},{"x":3.07,"y":1.13},{"x":3.13,"y":1.13},{"x":2.89,"y":1.03},{"x":2.95,"y":1.03},{"x":3.01,"y":1.03},{"x":3.07,"y":1.03},{"x":3.13,"y":1.03},{"x":2.83,"y":0.96},{"x":2.89,"y":0.96},{"x":2.95,"y":0.96},{"x":3.01,"y":0.96},{"x":3.07,"y":0.96},{"x":3.13,"y":0.96},{"x":2.89,"y":0.92},{"x":3.13,"y":0.9},{"x":2.95,"y":0.88},{"x":3.01,"y":0.88},{"x":3.07,"y":0.88},{"x":3.13,"y":0.88},{"x":2.95,"y":0.84},{"x":2.95,"y":0.75},{"x":3.01,"y":0.75},{"x":3.07,"y":0.75},{"x":3.13,"y":0.75},{"x":3.01,"y":0.7},{"x":2.95,"y":0.55},{"x":3.01,"y":0.58},{"x":3.07,"y":0.55},{"x":3.01,"y":0.46},{"x":3.01,"y":0.16},{"x":3.07,"y":0.12},{"x":3.01,"y":0.05},{"x":6.015,"y":1.33},{"x":6.075,"y":1.11},{"x":6.015,"y":1.05},{"x":5.955,"y":0.97},{"x":6.075,"y":0.97},{"x":6.015,"y":0.96},{"x":5.955,"y":0.87},{"x":6.015,"y":0.87},{"x":6.075,"y":0.87},{"x":6.135,"y":0.87},{"x":5.835,"y":0.84},{"x":5.895,"y":0.84},{"x":5.955,"y":0.84},{"x":6.135,"y":0.84},{"x":5.835,"y":0.71},{"x":5.895,"y":0.71},{"x":5.955,"y":0.71},{"x":6.015,"y":0.71},{"x":6.075,"y":0.71},{"x":6.135,"y":0.71},{"x":5.895,"y":0.65},{"x":5.955,"y":0.65},{"x":6.015,"y":0.65},{"x":6.075,"y":0.65},{"x":6.135,"y":0.65},{"x":5.955,"y":0.55},{"x":6.015,"y":0.53},{"x":6.075,"y":0.11},{"x":6.015,"y":0.05}],
"Dh":[{"x":0.66,"x2":1.34,"y":2.48},{"x":1.66,"x2":2.34,"y":1.59},{"x":2.66,"x2":3.34,"y":1.07},{"x":3.66,"x2":4.34,"y":2.27},{"x":4.66,"x2":5.34,"y":1.09},{"x":5.66,"x2":6.34,"y":0.77},{"x":0.82,"x2":1.18,"y":2.6},{"x":0.82,"x2":1.18,"y":2.36},{"x":1.82,"x2":2.18,"y":1.73},{"x":1.82,"x2":2.18,"y":1.5},{"x":3.82,"x2":4.18,"y":2.45},{"x":3.82,"x2":4.18,"y":2.1},{"x":4.82,"x2":5.18,"y":1.19},{"x":4.82,"x2":5.18,"y":0.99},{"x":0.73,"x2":3.36,"y":-0.68},{"x":3.78,"x2":6.386,"y":-0.68},{"x":2.03,"x2":5.03,"y":4.95},{"x":3.05,"x2":6.06,"y":4.4}],
"Dv":[{"x":2.03,"y":4.81,"y2":5.09},{"x":5.03,"y":4.81,"y2":5.09},{"x":3.05,"y":4.26,"y2":4.54},{"x":6.06,"y":4.26,"y2":4.54},{"x":1.0,"y":2.36,"y2":2.6},{"x":2.0,"y":1.5,"y2":1.73},{"x":4.0,"y":2.1,"y2":2.45},{"x":5.0,"y":0.99,"y2":1.19}],
"Ds":[{"x":3.54,"y":5.15,"t":"**"},{"x":4.45,"y":4.6,"t":"**"}],
"Dt":[{"x":2.22,"y":-0.95,"t":"Single room D"},{"x":4.79,"y":-0.95,"t":"Cohort D"}]
},
"spacing":1499,"bounds":"flush",
"vconcat":[
{"spacing":260,"bounds":"flush","hconcat":[
{"width":1356,"height":1013,
"encoding":{"x":{"field":"x","type":"quantitative","scale":{"domain":[0.498,6.313],"range":[0,1356],"nice":false,"zero":false},"axis":{"values":[1,2,3,4,5,6],"title":null,"labelExpr":"['M0','M1','M3'][(datum.value-1)%3]"}},"y":{"field":"y","type":"quantitative","scale":{"domain":[0,6],"range":[1013,0],"nice":false},"axis":{"values":[0,2,4,6],"title":"LPL (Log₁₀/uL)","titleX":-151,"titleY":510,"titleAlign":"center","titleBaseline":"middle","titleAngle":-90}}},
"layer":[
{"data":{"name":"A0"},"mark":{"type":"point","shape":"cross","filled":true,"size":196,"color":"black","opacity":1},"encoding":{}},
{"data":{"name":"A1"},"mark":{"type":"point","shape":"square","filled":true,"size":196,"color":"black","opacity":1},"encoding":{}},
{"data":{"name":"A2"},"mark":{"type":"point","shape":"triangle-up","filled":true,"size":170,"color":"black","opacity":1},"encoding":{}},
{"data":{"name":"Ah"},"mark":{"type":"rule","strokeWidth":10,"color":"black"},"encoding":{"x2":{"field":"x2"}}},
{"data":{"name":"Av"},"mark":{"type":"rule","strokeWidth":9,"color":"black"},"encoding":{"y2":{"field":"y2"}}},
{"data":{"name":"As"},"mark":{"type":"text","font":"Liberation Sans","fontWeight":"bold","fontSize":74,"baseline":"middle","dy":8,"color":"black"},"encoding":{"text":{"field":"t"}}},
{"data":{"name":"At"},"mark":{"type":"text","font":"Liberation Sans","fontWeight":"bold","fontSize":70,"baseline":"middle","color":"black"},"encoding":{"text":{"field":"t"}}}
]},
{"width":1355,"height":1048,
"encoding":{"x":{"field":"x","type":"quantitative","scale":{"domain":[0.509,6.393],"range":[0,1355],"nice":false,"zero":false},"axis":{"values":[1,2,3,4,5,6],"title":null,"labelExpr":"['M0','M1','M3'][(datum.value-1)%3]"}},"y":{"field":"y","type":"quantitative","scale":{"domain":[0,8],"range":[1048,50],"nice":false},"axis":{"values":[0,2,4,6,8],"title":"ND1(log₁₀/uL)","titleX":-146,"titleY":552,"titleAlign":"center","titleBaseline":"middle","titleAngle":-90}}},
"layer":[
{"data":{"name":"B0"},"mark":{"type":"point","shape":"cross","filled":true,"size":196,"color":"black","opacity":1},"encoding":{}},
{"data":{"name":"B1"},"mark":{"type":"point","shape":"square","filled":true,"size":196,"color":"black","opacity":1},"encoding":{}},
{"data":{"name":"B2"},"mark":{"type":"point","shape":"triangle-up","filled":true,"size":170,"color":"black","opacity":1},"encoding":{}},
{"data":{"name":"Bh"},"mark":{"type":"rule","strokeWidth":10,"color":"black"},"encoding":{"x2":{"field":"x2"}}},
{"data":{"name":"Bv"},"mark":{"type":"rule","strokeWidth":9,"color":"black"},"encoding":{"y2":{"field":"y2"}}},
{"data":{"name":"Bs"},"mark":{"type":"text","font":"Liberation Sans","fontWeight":"bold","fontSize":74,"baseline":"middle","dy":8,"color":"black"},"encoding":{"text":{"field":"t"}}},
{"data":{"name":"Bt"},"mark":{"type":"text","font":"Liberation Sans","fontWeight":"bold","fontSize":70,"baseline":"middle","color":"black"},"encoding":{"text":{"field":"t"}}}
]}
]},
{"spacing":209,"bounds":"flush","hconcat":[
{"width":1402,"height":1025,
"encoding":{"x":{"field":"x","type":"quantitative","scale":{"domain":[0.5,6.509],"range":[8,1402],"nice":false,"zero":false},"axis":{"values":[1,2,3,4,5,6],"title":null,"labelExpr":"['M0','M1','M3'][(datum.value-1)%3]"}},"y":{"field":"y","type":"quantitative","scale":{"domain":[0,30],"range":[1025,19],"nice":false},"axis":{"values":[0,10,20,30],"offset":-8,"title":"PTX3(ng/mL)","titleX":-172,"titleY":526,"titleAlign":"center","titleBaseline":"middle","titleAngle":-90}}},
"layer":[
{"data":{"name":"C0"},"mark":{"type":"point","shape":"cross","filled":true,"size":196,"color":"black","opacity":1},"encoding":{}},
{"data":{"name":"C1"},"mark":{"type":"point","shape":"square","filled":true,"size":196,"color":"black","opacity":1},"encoding":{}},
{"data":{"name":"C2"},"mark":{"type":"point","shape":"triangle-up","filled":true,"size":170,"color":"black","opacity":1},"encoding":{}},
{"data":{"name":"Ch"},"mark":{"type":"rule","strokeWidth":10,"color":"black"},"encoding":{"x2":{"field":"x2"}}},
{"data":{"name":"Cv"},"mark":{"type":"rule","strokeWidth":9,"color":"black"},"encoding":{"y2":{"field":"y2"}}},
{"data":{"name":"Cs"},"mark":{"type":"text","font":"Liberation Sans","fontWeight":"bold","fontSize":74,"baseline":"middle","dy":8,"color":"black"},"encoding":{"text":{"field":"t"}}},
{"data":{"name":"Ct"},"mark":{"type":"text","font":"Liberation Sans","fontWeight":"bold","fontSize":70,"baseline":"middle","color":"black"},"encoding":{"text":{"field":"t"}}}
]},
{"width":1429,"height":1054,
"encoding":{"x":{"field":"x","type":"quantitative","scale":{"domain":[0.52,6.386],"range":[0,1429],"nice":false,"zero":false},"axis":{"values":[1,2,3,4,5,6],"title":null,"labelExpr":"['M0','M1','M3'][(datum.value-1)%3]"}},"y":{"field":"y","type":"quantitative","scale":{"domain":[0,5],"range":[1054,0],"nice":false},"axis":{"values":[0,1,2,3,4,5],"title":"LPL (Log₁₀/uL)","titleX":-164,"titleY":526,"titleAlign":"center","titleBaseline":"middle","titleAngle":-90}}},
"layer":[
{"data":{"name":"D0"},"mark":{"type":"point","shape":"cross","filled":true,"size":196,"color":"black","opacity":1},"encoding":{}},
{"data":{"name":"D1"},"mark":{"type":"point","shape":"square","filled":true,"size":196,"color":"black","opacity":1},"encoding":{}},
{"data":{"name":"D2"},"mark":{"type":"point","shape":"triangle-up","filled":true,"size":170,"color":"black","opacity":1},"encoding":{}},
{"data":{"name":"Dh"},"mark":{"type":"rule","strokeWidth":10,"color":"black"},"encoding":{"x2":{"field":"x2"}}},
{"data":{"name":"Dv"},"mark":{"type":"rule","strokeWidth":9,"color":"black"},"encoding":{"y2":{"field":"y2"}}},
{"data":{"name":"Ds"},"mark":{"type":"text","font":"Liberation Sans","fontWeight":"bold","fontSize":74,"baseline":"middle","dy":8,"color":"black"},"encoding":{"text":{"field":"t"}}},
{"data":{"name":"Dt"},"mark":{"type":"text","font":"Liberation Sans","fontWeight":"bold","fontSize":70,"baseline":"middle","color":"black"},"encoding":{"text":{"field":"t"}}}
]}
]}
]}
